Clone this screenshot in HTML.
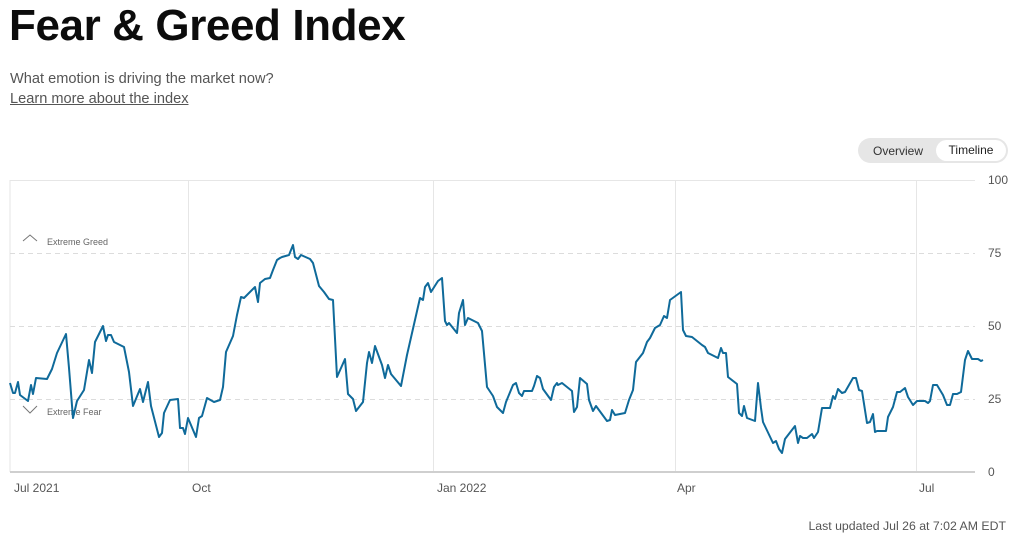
<!DOCTYPE html>
<html><head><meta charset="utf-8"><style>
html,body{margin:0;padding:0;background:#fff;width:1014px;height:539px;overflow:hidden;font-family:"Liberation Sans",Arial,sans-serif;}
h1{position:absolute;left:9px;top:1px;margin:0;font-size:44px;font-weight:bold;color:#0c0c0c;letter-spacing:-0.4px;}
.sub{position:absolute;left:10px;top:71px;font-size:14.6px;color:#555;}
.lnk{position:absolute;left:10px;top:91px;font-size:14.6px;color:#555;text-decoration:underline;}
.tog{position:absolute;left:858px;top:138px;width:150px;height:25px;border-radius:13px;background:#e6e6e6;}
.tog .o{position:absolute;left:15px;top:6px;font-size:12px;color:#333;}
.tog .t{position:absolute;left:78px;top:2px;width:70px;height:21px;border-radius:11px;background:#fff;font-size:12px;color:#222;text-align:center;line-height:21px;}
.upd{position:absolute;right:8px;top:519px;font-size:12.3px;color:#555;}
svg{position:absolute;left:0;top:0;}
</style></head><body>
<h1>Fear &amp; Greed Index</h1>
<div class="sub">What emotion is driving the market now?</div>
<div class="lnk">Learn more about the index</div>
<div class="tog"><span class="o">Overview</span><span class="t">Timeline</span></div>
<svg width="1014" height="539" font-family="Liberation Sans, Arial, sans-serif">
<g stroke="#e6e6e6" stroke-width="1">
<line x1="10" y1="180.5" x2="975" y2="180.5"/>
<line x1="10" y1="180" x2="10" y2="472"/>
<line x1="188.5" y1="180" x2="188.5" y2="472"/>
<line x1="433.5" y1="180" x2="433.5" y2="472"/>
<line x1="675.5" y1="180" x2="675.5" y2="472"/>
<line x1="916.5" y1="180" x2="916.5" y2="472"/>
</g>
<g stroke="#dcdcdc" stroke-width="1" stroke-dasharray="5,4">
<line x1="10" y1="253.5" x2="975" y2="253.5"/>
<line x1="10" y1="326.5" x2="975" y2="326.5"/>
<line x1="10" y1="399.5" x2="975" y2="399.5"/>
</g>
<line x1="10" y1="472" x2="975" y2="472" stroke="#cfcfcf" stroke-width="2"/>
<g font-size="12" fill="#555">
<text x="988" y="184">100</text><text x="988" y="257">75</text><text x="988" y="330">50</text><text x="988" y="403">25</text><text x="988" y="476">0</text>
<text x="14" y="492">Jul 2021</text><text x="192" y="492">Oct</text><text x="437" y="492">Jan 2022</text><text x="677" y="492">Apr</text><text x="919" y="492">Jul</text>
</g>
<g font-size="9" fill="#666"><text x="47" y="245">Extreme Greed</text><text x="47" y="415">Extreme Fear</text></g>
<polyline points="23,241 30,235 37,241" fill="none" stroke="#777" stroke-width="1"/>
<polyline points="23,406 30,413 37,406" fill="none" stroke="#777" stroke-width="1"/>
<polyline fill="none" stroke="#0f6a9a" stroke-width="2" stroke-linejoin="round" points="10,383 13,393 15,393 18,382 20,395 28,401 31,385 33,394 36,378 47,379 52,369 57,353 66,334 69,368 73,418 77,401 84,390 89,360 92,373 95,342 103,326 106,341 108,335 111,335 114,342 124,347 129,372 133,406 140,389 143,402 148,382 151,406 159,437 162,433 164,413 170,400 178,399 180,428 183,428 185,434 188,418 196,437 199,418 202,416 207,398 214,402 220,400 223,387 226,352 233,336 237,315 241,297 244,298 255,287 258,302 260,283 265,279 270,278 273,270 277,260 280,258 282,257 289,255 293,245 295,257 298,259 301,255 310,259 313,263 319,286 324,292 329,299 333,300 337,377 345,359 348,394 353,399 356,411 363,402 367,363 369,352 372,363 375,346 382,365 385,378 388,365 391,374 401,386 407,355 420,298 423,300 425,287 428,283 431,292 438,281 442,278 445,321 447,325 449,323 457,333 459,313 463,300 465,325 468,318 478,323 482,331 487,387 493,396 497,407 503,413 506,402 513,385 516,383 519,393 522,396 524,391 532,391 534,386 537,376 540,378 543,389 551,400 554,387 557,383 558,385 562,383 572,391 574,412 577,407 580,378 587,384 589,400 593,411 596,406 607,421 610,420 612,410 615,415 625,413 629,400 633,390 636,362 643,353 647,342 650,338 655,328 660,325 664,316 667,318 670,300 681,292 683,330 686,336 692,337 702,345 705,347 708,353 718,358 721,348 723,353 726,353 728,377 737,384 739,413 742,416 744,406 747,418 755,421 758,383 761,408 763,422 773,443 776,441 779,449 782,453 785,439 795,426 798,443 800,436 803,438 807,438 812,434 814,438 818,432 822,408 830,408 833,396 835,399 838,389 842,393 845,392 853,378 856,378 859,390 862,391 867,423 870,422 873,414 875,432 877,431 886,431 888,417 893,407 897,392 900,392 905,388 908,397 913,405 917,401 925,401 928,403 930,401 933,385 937,385 943,395 947,405 950,405 953,394 957,394 961,392 965,360 968,351 972,359 978,359 981,361 983,360"/>
</svg>
<div class="upd">Last updated Jul 26 at 7:02 AM EDT</div>
</body></html>
